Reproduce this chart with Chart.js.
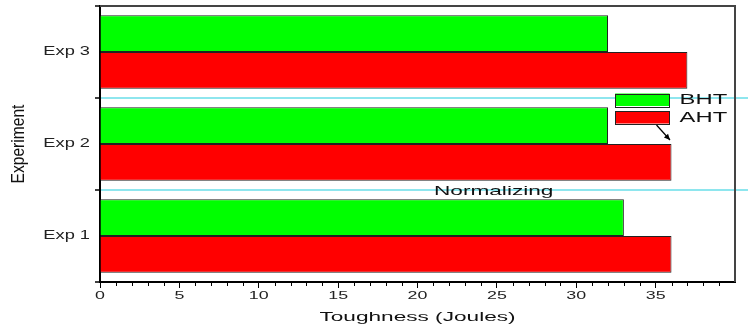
<!DOCTYPE html>
<html>
<head>
<meta charset="utf-8">
<script src="https://cdn.jsdelivr.net/npm/chart.js@4.4.0/dist/chart.umd.min.js"></script>
<style>
  html, body { margin: 0; padding: 0; background: #fff; }
  #wrap { width: 748px; height: 326px; }
</style>
</head>
<body>
<div id="wrap"><canvas id="c" width="748" height="326"></canvas></div>
<script>
// ---- data ----
const categories = ['Exp 3', 'Exp 2', 'Exp 1'];
const seriesNames = ['BHT', 'AHT'];
const bhtValues = [32, 32, 33];
const ahtValues = [37, 36, 36];
const xMin = 0;
const xMax = 40;
const annotationText = 'Normalizing';
const xTitle = 'Toughness (Joules)';
const yTitle = 'Experiment';

// horizontal stretch of glyphs, keyed by font pixel size (the reference text is wide)
const STRETCH = { 11: 1.62, 12: 1.52, 13: 1.74, 14: 1.7, 19: 0.82 };
const FONT = '"Liberation Sans", Arial, sans-serif';

const stretchPlugin = {
  id: 'stretchText',
  beforeInit(chart) {
    const ctx = chart.ctx;
    if (ctx.__patched) return;
    const orig = ctx.fillText;
    ctx.fillText = function (text, x, y) {
      const m = /(\d+(?:\.\d+)?)px/.exec(this.font);
      const size = m ? Math.round(parseFloat(m[1])) : 12;
      const sx = STRETCH[size] || 1;
      this.save();
      this.translate(x, y);
      this.scale(sx, 1);
      orig.call(this, text, 0, 0);
      this.restore();
    };
    ctx.__patched = true;
  }
};

const decoPlugin = {
  id: 'deco',
  afterDraw(chart) {
    const ctx = chart.ctx;
    const xs = chart.scales.x, ys = chart.scales.y;
    const area = chart.chartArea;
    ctx.save();
    const L = Math.round(area.left), T = Math.round(area.top);
    const R = Math.round(area.right), B = Math.round(area.bottom);
    // minor ticks on x axis
    ctx.fillStyle = '#000';
    for (let v = xMin + 1; v < xMax; v++) {
      if (v % 5 === 0) continue;
      const px = Math.round(xs.getPixelForValue(v));
      ctx.fillRect(px, B, 1, 4);
    }
    // cyan separators extended past right border
    ctx.strokeStyle = '#8ee6ee';
    ctx.lineWidth = 2;
    for (let i = 0; i < categories.length - 1; i++) {
      const py = (ys.getPixelForValue(i) + ys.getPixelForValue(i + 1)) / 2;
      ctx.beginPath();
      ctx.moveTo(R + 1, py);
      ctx.lineTo(chart.width, py);
      ctx.stroke();
    }
    // annotation text
    const py2 = (ys.getPixelForValue(1) + ys.getPixelForValue(2)) / 2;
    ctx.fillStyle = '#111';
    ctx.font = '13px ' + FONT;
    ctx.textAlign = 'center';
    ctx.textBaseline = 'middle';
    ctx.fillText(annotationText, xs.getPixelForValue(24.8), py2 + 1);

    // legend
    const ds = chart.data.datasets;
    const bx0 = xs.getPixelForValue(32.45), bx1 = xs.getPixelForValue(35.88);
    const rows = [[93.5, 106], [111, 123.5]];
    ctx.font = '14px ' + FONT;
    ctx.textAlign = 'left';
    for (let i = 0; i < ds.length; i++) {
      const [t, b] = rows[i];
      ctx.fillStyle = ds[i].backgroundColor;
      ctx.fillRect(bx0, t, bx1 - bx0, b - t);
      ctx.strokeStyle = '#222';
      ctx.lineWidth = 1;
      ctx.strokeRect(Math.round(bx0) + 0.5, Math.round(t) + 0.5, Math.round(bx1 - bx0), Math.round(b - t));
      ctx.fillStyle = '#111';
      ctx.fillText(ds[i].label, bx1 + 10, (t + b) / 2 + 0.5);
    }
    // arrow
    const ax0 = 656.5, ay0 = 125, ax1 = 670, ay1 = 140;
    ctx.strokeStyle = '#000';
    ctx.fillStyle = '#000';
    ctx.lineWidth = 1.2;
    ctx.beginPath();
    ctx.moveTo(ax0, ay0);
    ctx.lineTo(ax1, ay1);
    ctx.stroke();
    const ang = Math.atan2(ay1 - ay0, ax1 - ax0);
    const hl = 6, hw = 2.8;
    ctx.beginPath();
    ctx.moveTo(ax1, ay1);
    ctx.lineTo(ax1 - hl * Math.cos(ang) + hw * Math.sin(ang), ay1 - hl * Math.sin(ang) - hw * Math.cos(ang));
    ctx.lineTo(ax1 - hl * Math.cos(ang) - hw * Math.sin(ang), ay1 - hl * Math.sin(ang) + hw * Math.cos(ang));
    ctx.closePath();
    ctx.fill();
    // top and right frame
    ctx.fillStyle = '#444';
    ctx.fillRect(L, T - 1, R - L + 1, 2);
    ctx.fillRect(R - 1, T - 1, 2, B - T + 1);
    ctx.restore();
  }
};

new Chart(document.getElementById('c'), {
  type: 'bar',
  data: {
    labels: categories,
    datasets: [
      { label: seriesNames[0], data: bhtValues, backgroundColor: '#00ff00', borderColor: '#222', borderWidth: 1, borderSkipped: 'start' },
      { label: seriesNames[1], data: ahtValues, backgroundColor: '#ff0000', borderColor: '#222', borderWidth: 1, borderSkipped: 'start' }
    ]
  },
  options: {
    indexAxis: 'y',
    responsive: false,
    animation: false,
    devicePixelRatio: 1,
    layout: { padding: { top: 6, right: 13, left: 0, bottom: 0 } },
    datasets: { bar: { categoryPercentage: 0.8, barPercentage: 1.0 } },
    plugins: { legend: { display: false }, tooltip: { enabled: false } },
    scales: {
      x: {
        type: 'linear',
        min: xMin,
        max: xMax,
        afterFit(s) { s.height = 44; s.paddingLeft = 0; s.paddingRight = 0; },
        ticks: {
          stepSize: 1,
          autoSkip: false,
          maxRotation: 0,
          padding: 1,
          color: '#222',
          font: { family: FONT, size: 11 },
          callback(v) { return (v % 5 === 0 && v < xMax) ? String(v) : ''; }
        },
        grid: {
          drawOnChartArea: false,
          drawTicks: true,
          tickLength: 6,
          lineWidth: 1,
          color: 'rgba(0,0,0,0)',
          tickColor(c) { return (c.tick && c.tick.value % 5 === 0 && c.tick.value < xMax) ? '#000' : 'rgba(0,0,0,0)'; }
        },
        border: { display: true, color: '#000', width: 2 },
        title: {
          display: true,
          text: xTitle,
          color: '#111',
          font: { family: FONT, size: 13 },
          padding: { top: 0, bottom: 1 }
        }
      },
      y: {
        type: 'category',
        offset: true,
        afterFit(s) { s.width = 100; s.paddingTop = 0; s.paddingBottom = 0; },
        ticks: {
          padding: 5,
          color: '#222',
          font: { family: FONT, size: 12 }
        },
        grid: {
          offset: true,
          drawOnChartArea: true,
          drawTicks: true,
          tickLength: 5,
          lineWidth: 2,
          color(c) {
            if (c.index === 0 || c.index >= categories.length) return 'rgba(0,0,0,0)';
            return '#8ee6ee';
          },
          tickColor: '#000',
          tickWidth: 1.5
        },
        border: { display: true, color: '#000', width: 2 },
        title: {
          display: true,
          text: yTitle,
          color: '#111',
          font: { family: FONT, size: 19 },
          padding: { top: 7, bottom: 0 }
        }
      }
    }
  },
  plugins: [stretchPlugin, decoPlugin]
});
</script>
</body>
</html>
